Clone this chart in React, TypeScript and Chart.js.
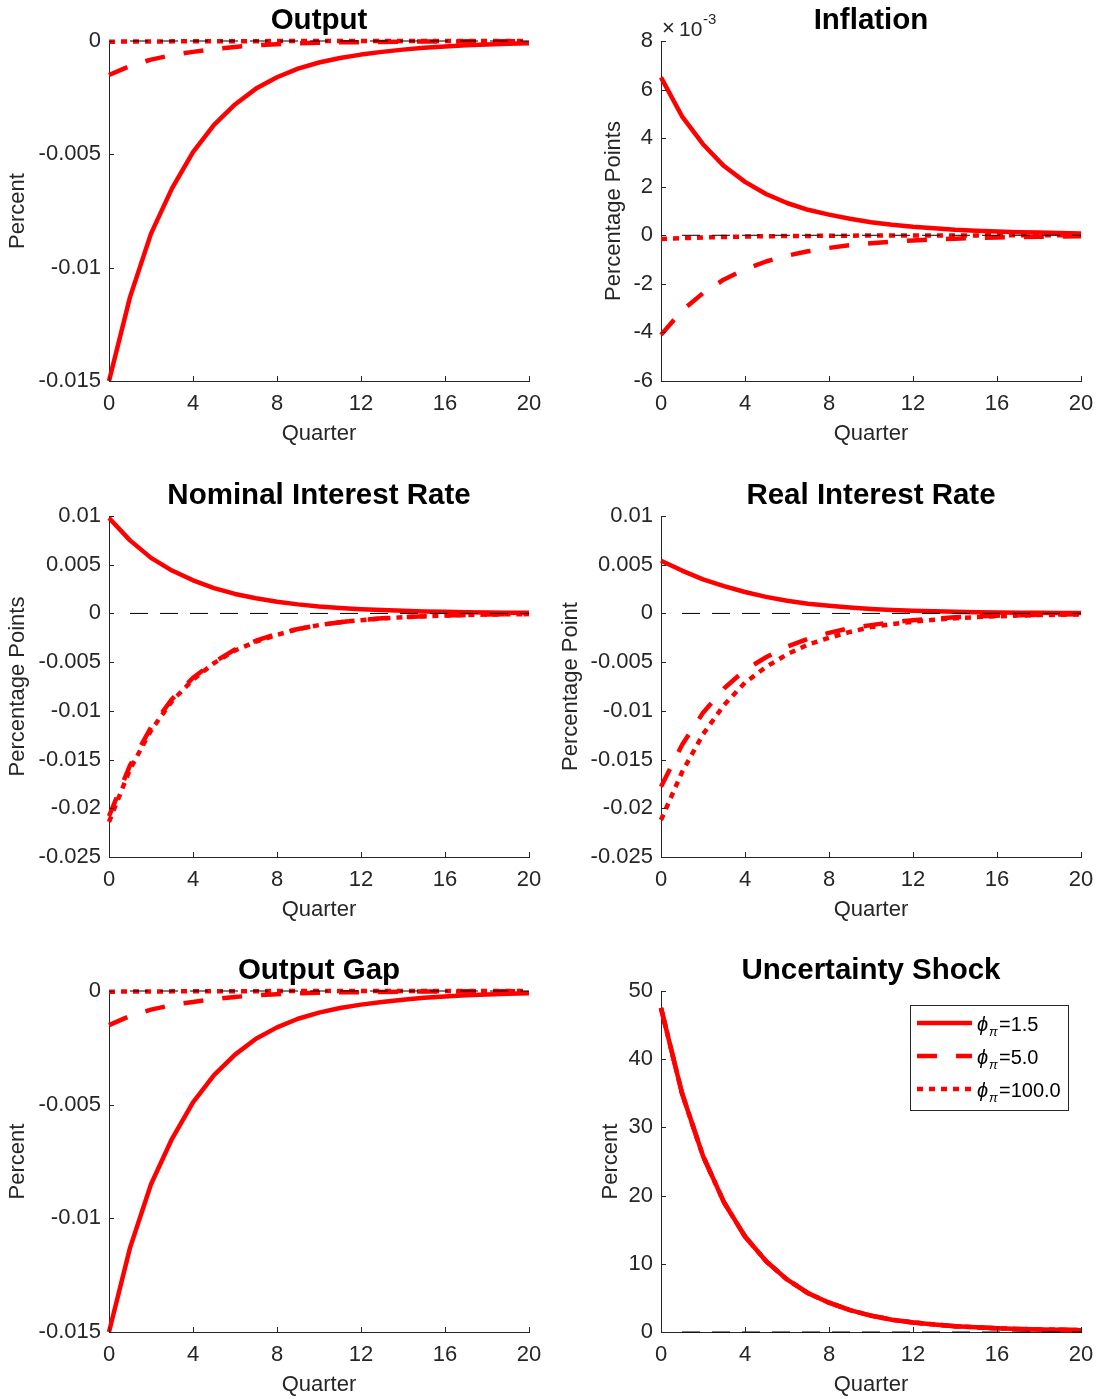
import React, { useEffect, useRef } from "react";
import { Chart, registerables } from "chart.js";

Chart.register(...registerables);

const FONT = '"Liberation Sans", Arial, Helvetica, sans-serif';
const RED = "#ff0000";
const AXIS = "#262626";

// ---------- data ----------
const quarters = [0, 1, 2, 3, 4, 5, 6, 7, 8, 9, 10, 11, 12, 13, 14, 15, 16, 17, 18, 19, 20];
const zeroLineQuarters = [1, 20];
const zeroLineValues = [0, 0];

const xTicks = [0, 4, 8, 12, 16, 20];
const xTickLabels = ["0", "4", "8", "12", "16", "20"];

const outputYTicks = [-0.015, -0.01, -0.005, 0];
const outputYTickLabels = ["-0.015", "-0.01", "-0.005", "0"];
const inflationYTicks = [-6, -4, -2, 0, 2, 4, 6, 8];
const inflationYTickLabels = ["-6", "-4", "-2", "0", "2", "4", "6", "8"];
const rateYTicks = [-0.025, -0.02, -0.015, -0.01, -0.005, 0, 0.005, 0.01];
const rateYTickLabels = ["-0.025", "-0.02", "-0.015", "-0.01", "-0.005", "0", "0.005", "0.01"];
const shockYTicks = [0, 10, 20, 30, 40, 50];
const shockYTickLabels = ["0", "10", "20", "30", "40", "50"];

// Output (percent)
const outputPhi15 = [-0.015, -0.0113, -0.0085, -0.0065, -0.0049, -0.0037, -0.0028, -0.0021, -0.0016, -0.00122, -0.00095, -0.00075, -0.0006, -0.00048, -0.00038, -0.0003, -0.00024, -0.00019, -0.00015, -0.00012, -0.0001];
const outputPhi5 = [-0.0015, -0.0011, -0.00082, -0.00062, -0.00048, -0.00036, -0.00026, -0.00019, -0.00014, -0.0001, -0.00008, -0.00006, -0.00005, -0.00004, -0.00003, -0.000025, -0.00002, -0.000016, -0.000013, -0.00001, -0.000008];
const outputPhi100 = [-0.00003, -0.000025, -0.00002, -0.000016, -0.000012, -0.00001, -0.000008, -0.000006, -0.000005, -0.000004, -0.000003, -0.000002, -0.000002, -0.000001, -0.000001, -0.000001, 0, 0, 0, 0, 0];

// Inflation (x 10^-3 percentage points)
const inflationPhi15 = [6.5, 4.9, 3.75, 2.85, 2.2, 1.7, 1.33, 1.05, 0.85, 0.68, 0.54, 0.43, 0.35, 0.29, 0.23, 0.19, 0.16, 0.13, 0.11, 0.09, 0.07];
const inflationPhi5 = [-4.1, -3.1, -2.38, -1.82, -1.4, -1.08, -0.84, -0.66, -0.52, -0.41, -0.33, -0.26, -0.21, -0.17, -0.14, -0.11, -0.09, -0.07, -0.06, -0.05, -0.04];
const inflationPhi100 = [-0.15, -0.12, -0.09, -0.07, -0.05, -0.04, -0.03, -0.025, -0.02, -0.015, -0.012, -0.01, -0.008, -0.006, -0.005, -0.004, -0.003, -0.002, -0.002, -0.001, -0.001];

// Nominal interest rate (percentage points)
const nominalPhi15 = [0.0098, 0.0075, 0.0057, 0.0044, 0.0034, 0.0026, 0.002, 0.00155, 0.0012, 0.00093, 0.00072, 0.00056, 0.00044, 0.00034, 0.00027, 0.00021, 0.00017, 0.00013, 0.0001, 0.00008, 0.00006];
const nominalPhi5 = [-0.0208, -0.0156, -0.0117, -0.0088, -0.0066, -0.005, -0.0037, -0.0028, -0.0021, -0.0016, -0.0012, -0.0009, -0.00067, -0.0005, -0.00038, -0.00028, -0.00021, -0.00016, -0.00012, -0.00009, -0.00007];
const nominalPhi100 = [-0.0214, -0.016, -0.012, -0.009, -0.0068, -0.0051, -0.0038, -0.0029, -0.0022, -0.0016, -0.0012, -0.0009, -0.00069, -0.00052, -0.00039, -0.00029, -0.00022, -0.00016, -0.00012, -0.00009, -0.00007];

// Real interest rate (percentage point)
const realPhi15 = [0.0054, 0.0044, 0.0035, 0.0028, 0.0022, 0.0017, 0.0013, 0.001, 0.00078, 0.0006, 0.00046, 0.00036, 0.00028, 0.00022, 0.00017, 0.00013, 0.0001, 0.00008, 0.00006, 0.00005, 0.00004];
const realPhi5 = [-0.0178, -0.0135, -0.0102, -0.0077, -0.0058, -0.0045, -0.0034, -0.0026, -0.002, -0.0015, -0.0012, -0.0009, -0.0007, -0.00053, -0.0004, -0.0003, -0.00023, -0.00018, -0.00014, -0.0001, -0.00008];
const realPhi100 = [-0.0212, -0.0163, -0.0124, -0.0094, -0.0071, -0.0055, -0.0042, -0.0032, -0.0025, -0.0019, -0.0014, -0.0011, -0.00085, -0.00065, -0.0005, -0.00038, -0.00029, -0.00022, -0.00017, -0.00013, -0.0001];

// Output gap (percent)
const gapPhi15 = [-0.015, -0.0113, -0.0085, -0.0065, -0.0049, -0.0037, -0.0028, -0.0021, -0.0016, -0.00122, -0.00095, -0.00075, -0.0006, -0.00048, -0.00038, -0.0003, -0.00024, -0.00019, -0.00015, -0.00012, -0.0001];
const gapPhi5 = [-0.0015, -0.0011, -0.00082, -0.00062, -0.00048, -0.00036, -0.00026, -0.00019, -0.00014, -0.0001, -0.00008, -0.00006, -0.00005, -0.00004, -0.00003, -0.000025, -0.00002, -0.000016, -0.000013, -0.00001, -0.000008];
const gapPhi100 = [-0.00003, -0.000025, -0.00002, -0.000016, -0.000012, -0.00001, -0.000008, -0.000006, -0.000005, -0.000004, -0.000003, -0.000002, -0.000002, -0.000001, -0.000001, -0.000001, 0, 0, 0, 0, 0];

// Uncertainty shock (percent)
const shockPhi15 = [47.5, 35.0, 25.8, 19.0, 14.0, 10.4, 7.7, 5.7, 4.3, 3.2, 2.4, 1.8, 1.4, 1.1, 0.85, 0.68, 0.55, 0.45, 0.38, 0.32, 0.27];
const shockPhi5 = [47.5, 35.0, 25.8, 19.0, 14.0, 10.4, 7.7, 5.7, 4.3, 3.2, 2.4, 1.8, 1.4, 1.1, 0.85, 0.68, 0.55, 0.45, 0.38, 0.32, 0.27];
const shockPhi100 = [47.5, 35.0, 25.8, 19.0, 14.0, 10.4, 7.7, 5.7, 4.3, 3.2, 2.4, 1.8, 1.4, 1.1, 0.85, 0.68, 0.55, 0.45, 0.38, 0.32, 0.27];

const legendLabels = ["1.5", "5.0", "100.0"];

// ---------- layout ----------
const COL_X0 = [0, 550];
const COL_W = [550, 549];
const ROW_Y0 = [0, 470, 945];
const ROW_H = [470, 475, 454];
const AREA_LEFT = [109, 661];
const AREA_RIGHT = [529, 1081];
const AREA_TOP = [41, 516, 991];
const AREA_BOTTOM = [381, 857, 1332];

const LINE_W = 4.5;
const DASH_SOLID: number[] = [];
const DASH_DASHED = [20, 19];
const DASH_DOTTED = [6, 6];
const DASH_ZERO = [18, 12];

interface PanelCfg {
  title: string;
  yLabel: string;
  yLabelX: number;
  col: number;
  row: number;
  solid: number[];
  dashed: number[];
  dotted: number[];
  yMin: number;
  yMax: number;
  yTicks: number[];
  yTickLabels: string[];
  exponent?: boolean;
  legend?: boolean;
}

const panels: PanelCfg[] = [
  { title: "Output", yLabel: "Percent", yLabelX: 18, col: 0, row: 0, solid: outputPhi15, dashed: outputPhi5, dotted: outputPhi100, yMin: -0.015, yMax: 0, yTicks: outputYTicks, yTickLabels: outputYTickLabels },
  { title: "Inflation", yLabel: "Percentage Points", yLabelX: 614, col: 1, row: 0, solid: inflationPhi15, dashed: inflationPhi5, dotted: inflationPhi100, yMin: -6, yMax: 8, yTicks: inflationYTicks, yTickLabels: inflationYTickLabels, exponent: true },
  { title: "Nominal Interest Rate", yLabel: "Percentage Points", yLabelX: 18, col: 0, row: 1, solid: nominalPhi15, dashed: nominalPhi5, dotted: nominalPhi100, yMin: -0.025, yMax: 0.01, yTicks: rateYTicks, yTickLabels: rateYTickLabels },
  { title: "Real Interest Rate", yLabel: "Percentage Point", yLabelX: 571, col: 1, row: 1, solid: realPhi15, dashed: realPhi5, dotted: realPhi100, yMin: -0.025, yMax: 0.01, yTicks: rateYTicks, yTickLabels: rateYTickLabels },
  { title: "Output Gap", yLabel: "Percent", yLabelX: 18, col: 0, row: 2, solid: gapPhi15, dashed: gapPhi5, dotted: gapPhi100, yMin: -0.015, yMax: 0, yTicks: outputYTicks, yTickLabels: outputYTickLabels },
  { title: "Uncertainty Shock", yLabel: "Percent", yLabelX: 611, col: 1, row: 2, solid: shockPhi15, dashed: shockPhi5, dotted: shockPhi100, yMin: 0, yMax: 50, yTicks: shockYTicks, yTickLabels: shockYTickLabels, legend: true },
];

function toPoints(xs: number[], ys: number[]) {
  return ys.map((y, i) => ({ x: xs[i], y }));
}

function Panel({ cfg }: { cfg: PanelCfg }) {
  const ref = useRef<HTMLCanvasElement | null>(null);
  const x0 = COL_X0[cfg.col];
  const y0 = ROW_Y0[cfg.row];
  const w = COL_W[cfg.col];
  const h = ROW_H[cfg.row];

  useEffect(() => {
    const canvas = ref.current;
    if (!canvas) return;
    const L = AREA_LEFT[cfg.col];
    const R = AREA_RIGHT[cfg.col];
    const T = AREA_TOP[cfg.row];
    const B = AREA_BOTTOM[cfg.row];
    const yAxisWidth = L - x0;
    const xAxisHeight = y0 + h - B;

    const decor = {
      id: "decor" + cfg.title.replace(/\s/g, ""),
      afterDraw(chart: any) {
        const ctx: CanvasRenderingContext2D = chart.ctx;
        const ca = chart.chartArea;
        const xs = chart.scales.x;
        const ys = chart.scales.y;
        ctx.save();
        // inward tick marks
        ctx.strokeStyle = AXIS;
        ctx.lineWidth = 1;
        ctx.setLineDash([]);
        ctx.beginPath();
        for (const v of cfg.yTicks) {
          const py = Math.round(ys.getPixelForValue(v)) + 0.5;
          ctx.moveTo(ca.left, py);
          ctx.lineTo(ca.left + 5, py);
        }
        for (const v of xTicks) {
          const px = Math.round(xs.getPixelForValue(v)) + 0.5;
          ctx.moveTo(px, ca.bottom);
          ctx.lineTo(px, ca.bottom - 5);
        }
        ctx.stroke();

        // title
        ctx.fillStyle = "#000";
        ctx.font = `bold 29.5px ${FONT}`;
        ctx.textAlign = "center";
        ctx.textBaseline = "middle";
        ctx.fillText(cfg.title, (ca.left + ca.right) / 2, ca.top - 20);

        // x label
        ctx.fillStyle = AXIS;
        ctx.font = `22px ${FONT}`;
        ctx.fillText("Quarter", (ca.left + ca.right) / 2, ca.bottom + 53);

        // y label
        ctx.save();
        ctx.translate(cfg.yLabelX - x0, (ca.top + ca.bottom) / 2);
        ctx.rotate(-Math.PI / 2);
        ctx.fillText(cfg.yLabel, 0, 0);
        ctx.restore();

        // exponent
        if (cfg.exponent) {
          ctx.textAlign = "left";
          ctx.textBaseline = "alphabetic";
          ctx.font = `22px ${FONT}`;
          ctx.fillText("\u00d7", 662 - x0, 35 - y0);
          ctx.font = `21px ${FONT}`;
          ctx.fillText("10", 679 - x0, 36 - y0);
          ctx.font = `15px ${FONT}`;
          ctx.fillText("-3", 703 - x0, 24 - y0);
        }

        // legend
        if (cfg.legend) {
          const bx = 910 - x0;
          const by = 1005 - y0;
          ctx.fillStyle = "#fff";
          ctx.fillRect(bx, by, 158, 105);
          ctx.strokeStyle = AXIS;
          ctx.lineWidth = 1;
          ctx.setLineDash([]);
          ctx.strokeRect(bx + 0.5, by + 0.5, 158, 105);
          const dashes = [DASH_SOLID, DASH_DASHED, DASH_DOTTED];
          legendLabels.forEach((lab, i) => {
            const ly = 1023 - y0 + i * 33;
            ctx.strokeStyle = RED;
            ctx.lineWidth = LINE_W;
            ctx.lineCap = "butt";
            ctx.setLineDash(dashes[i]);
            ctx.beginPath();
            ctx.moveTo(917 - x0, ly);
            ctx.lineTo(972 - x0, ly);
            ctx.stroke();
            ctx.setLineDash([]);
            ctx.fillStyle = "#000";
            ctx.textAlign = "left";
            ctx.textBaseline = "alphabetic";
            ctx.font = `italic 20px ${FONT}`;
            ctx.fillText("\u03d5", 977 - x0, ly + 8);
            ctx.font = `italic 13px ${FONT}`;
            ctx.fillText("\u03c0", 989 - x0, ly + 13);
            ctx.font = `20px ${FONT}`;
            ctx.fillText("=" + lab, 999 - x0, ly + 8);
          });
        }
        ctx.restore();
      },
    };

    const lineDs = (data: number[], dash: number[], order: number) => ({
      data: toPoints(quarters, data),
      borderColor: RED,
      backgroundColor: RED,
      borderWidth: LINE_W,
      borderDash: dash,
      borderCapStyle: "butt" as const,
      borderJoinStyle: "round" as const,
      pointRadius: 0,
      tension: 0,
      fill: false,
      clip: false as any,
      order,
    });

    const chart = new Chart(canvas, {
      type: "line",
      data: {
        datasets: [
          {
            data: toPoints(zeroLineQuarters, zeroLineValues),
            borderColor: "#000",
            borderWidth: 1,
            borderDash: DASH_ZERO,
            pointRadius: 0,
            tension: 0,
            fill: false,
            clip: false as any,
            order: 0,
          },
          lineDs(cfg.dotted, DASH_DOTTED, 1),
          lineDs(cfg.dashed, DASH_DASHED, 2),
          lineDs(cfg.solid, DASH_SOLID, 3),
        ],
      },
      options: {
        animation: false,
        responsive: false,
        maintainAspectRatio: false,
        events: [],
        layout: {
          padding: { left: 0, right: x0 + w - R, top: T - y0, bottom: 0 },
        },
        plugins: {
          legend: { display: false },
          title: { display: false },
          tooltip: { enabled: false },
        },
        scales: {
          x: {
            type: "linear",
            min: 0,
            max: 20,
            grid: { display: false, drawTicks: false },
            border: { display: true, color: AXIS, width: 1 },
            ticks: {
              color: AXIS,
              font: { family: FONT, size: 22 },
              padding: 10,
              maxRotation: 0,
              autoSkip: false,
              callback: (_v: any, i: number) => xTickLabels[i],
            },
            afterBuildTicks: (s: any) => {
              s.ticks = xTicks.map((v) => ({ value: v }));
            },
            afterFit: (s: any) => {
              s.height = xAxisHeight;
              s.paddingLeft = 0;
              s.paddingRight = 0;
            },
          },
          y: {
            type: "linear",
            min: cfg.yMin,
            max: cfg.yMax,
            grid: { display: false, drawTicks: false },
            border: { display: true, color: AXIS, width: 1 },
            ticks: {
              color: AXIS,
              font: { family: FONT, size: 22 },
              padding: 8,
              autoSkip: false,
              callback: (_v: any, i: number) => cfg.yTickLabels[i],
            },
            afterBuildTicks: (s: any) => {
              s.ticks = cfg.yTicks.map((v) => ({ value: v }));
            },
            afterFit: (s: any) => {
              s.width = yAxisWidth;
              s.paddingTop = 0;
              s.paddingBottom = 0;
            },
          },
        },
      } as any,
      plugins: [decor],
    });
    return () => chart.destroy();
  }, [cfg]);

  return (
    <canvas
      ref={ref}
      width={w}
      height={h}
      style={{ position: "absolute", left: x0, top: y0, width: w, height: h }}
    />
  );
}

export default function App() {
  return (
    <div
      style={{
        position: "absolute",
        left: 0,
        top: 0,
        width: 1099,
        height: 1399,
        background: "#fff",
        overflow: "hidden",
      }}
    >
      {panels.map((p) => (
        <Panel key={p.title} cfg={p} />
      ))}
    </div>
  );
}
